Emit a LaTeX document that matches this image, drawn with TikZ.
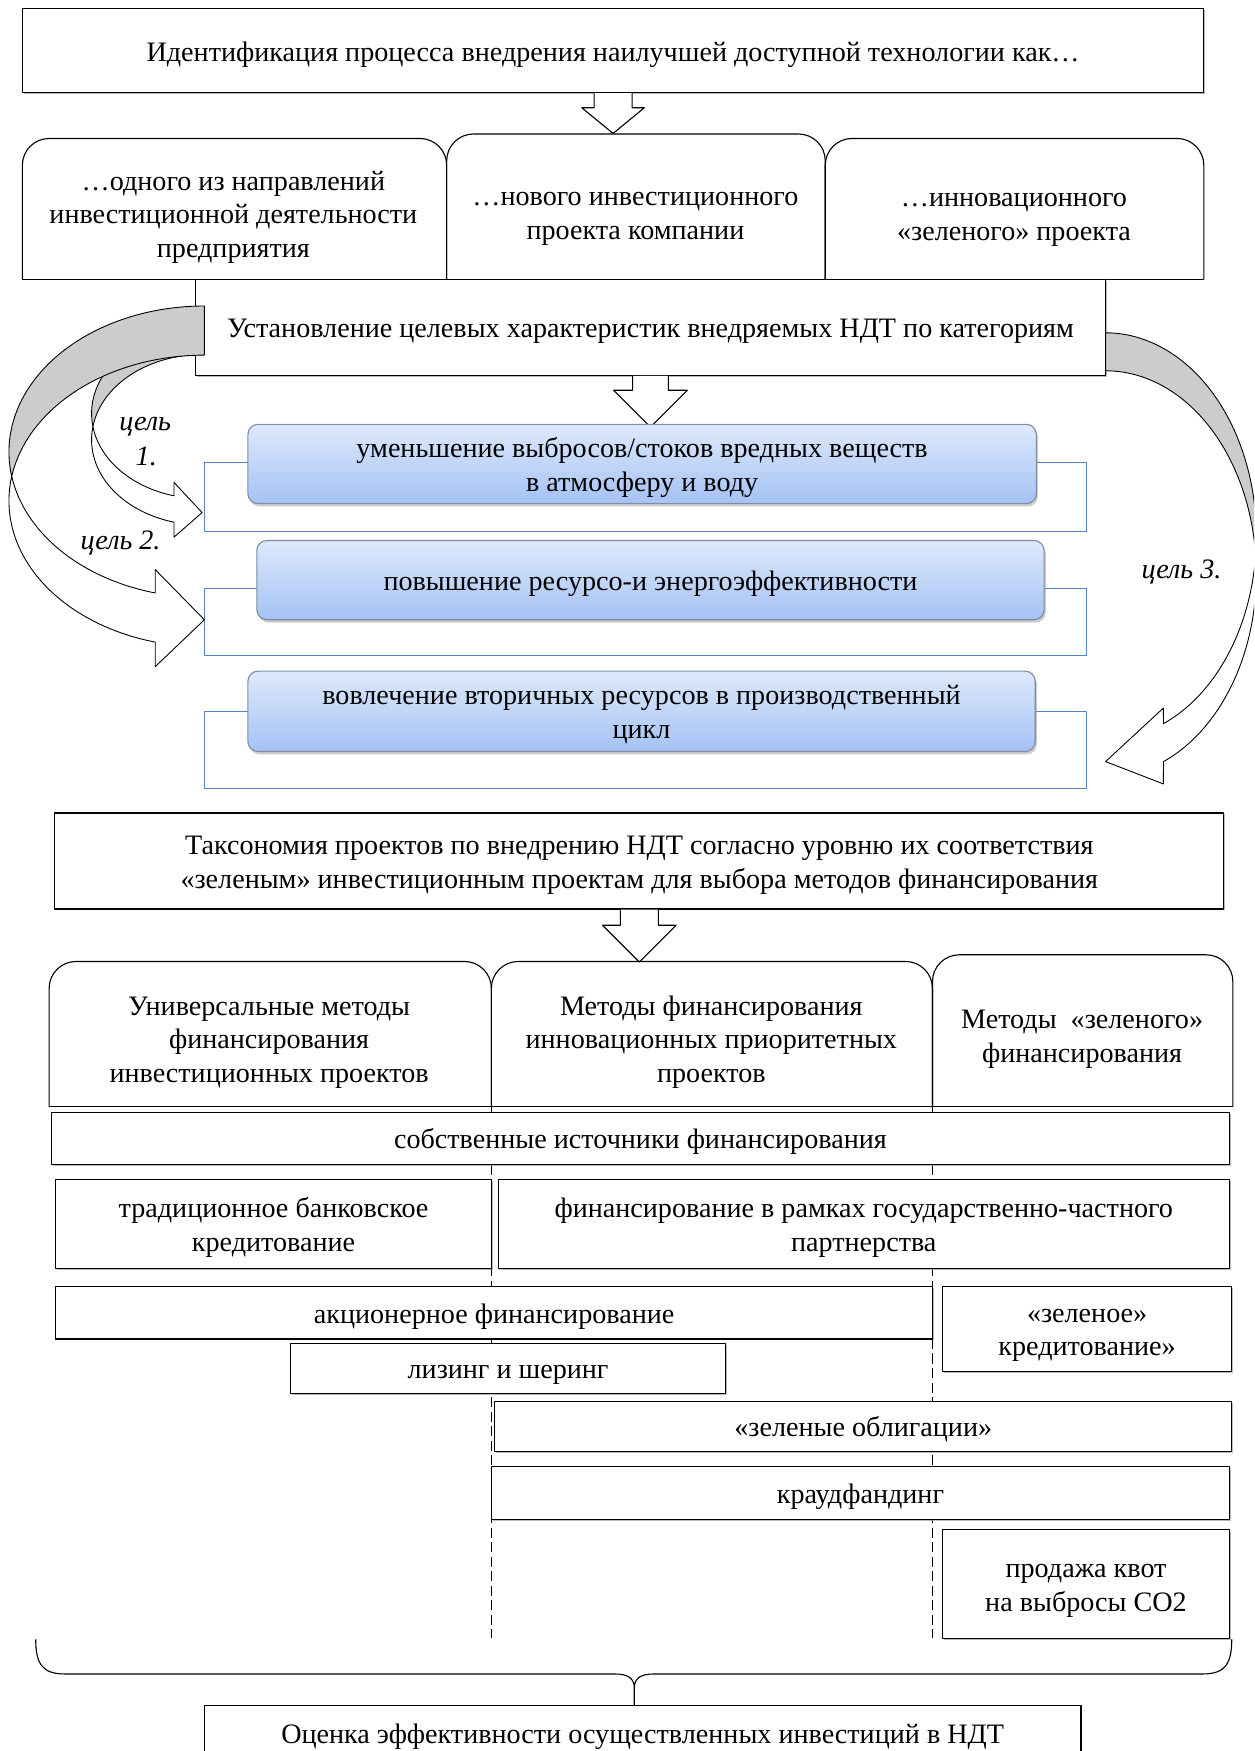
\documentclass[tikz,border=0pt]{standalone}
\usepackage{fontspec}
\setmainfont{Liberation Serif}
\usetikzlibrary{shadows}
\definecolor{goaltop}{RGB}{222,233,252}
\definecolor{goalbot}{RGB}{164,194,244}
\definecolor{goalline}{RGB}{128,140,160}
\definecolor{framecol}{RGB}{84,132,196}
\definecolor{backgray}{RGB}{204,204,204}

\begin{document}
\begin{tikzpicture}[x=1pt, y=-1pt, line join=round,
txt/.style={font=\fontsize{25.2}{30}\selectfont, align=center, inner sep=0pt,
  execute at begin node={\rule{0pt}{24pt}}, execute at end node={\rule[-5.5pt]{0pt}{5.5pt}}},
twoline/.style={execute at begin node={\rule{0pt}{54pt}}},
threeline/.style={execute at begin node={\rule{0pt}{84pt}}},
box/.style={txt, draw, line width=1pt, fill=white,
  drop shadow={shadow xshift=1.2pt, shadow yshift=-1.2pt, fill=black!45, opacity=.6}},
goal/.style={txt, draw=goalline, line width=1pt, rounded corners=9pt,
  top color=goaltop, bottom color=goalbot,
  drop shadow={shadow xshift=1.5pt, shadow yshift=-2.5pt, fill=black!40, opacity=.5}},
frame/.style={draw=framecol, line width=1.4pt, inner sep=0pt},
roundtop/.style={line width=1pt, rounded corners=24pt},
blockarr/.style={draw, line width=1pt, fill=white},
back/.style={draw, line width=.8pt, fill=backgray},
front/.style={draw, line width=.8pt, fill=white},
goallabel/.style={txt, font=\fontsize{25.2}{30}\selectfont\itshape},
divider/.style={line width=1pt, dash pattern=on 9pt off 4pt}]
\useasboundingbox (0,0) rectangle (1123,1568);
\clip (0,0) rectangle (1123,1568);

% identification
\node[box, minimum width=1058pt, minimum height=75pt] (ident) at (549,45.5)
  {Идентификация процесса внедрения наилучшей доступной технологии как…};

\draw[roundtop] (20,250) |- (400,124) -- (400,250);
\draw[roundtop] (400,250) |- (739,120) -- (739,250);
\draw[roundtop] (739,250) |- (1078,124) -- (1078,250);
\draw[line width=1pt] (20,250) -- (1078,250);
\node[txt, threeline] (way1) at (209,191) {…одного из направлений\\инвестиционной деятельности\\предприятия};
\node[txt, twoline] (way2) at (569,190) {…нового инвестиционного\\проекта компании};
\node[txt, twoline] (way3) at (908,191) {…инновационного\\«зеленого» проекта};

\draw[blockarr] ([xshift=-17pt]ident.south) -- ++(0,13) -- ++(-11,0) -- ++(28,23)
  -- ++(28,-23) -- ++(-11,0) -- ++(0,-13);

% goals
\node[box, minimum width=815pt, minimum height=86pt] (target) at (582.5,293)
  {Установление целевых характеристик внедряемых НДТ по категориям};
\draw[blockarr] ([xshift=-16pt]target.south) -- ++(0,13) -- ++(-17,0) -- ++(33,33)
  -- ++(33,-33) -- ++(-17,0) -- ++(0,-13);

\node[frame, minimum width=790pt, minimum height=62pt] (frame1) at (578,445) {};
\node[goal, twoline, minimum width=706pt, minimum height=71pt] (goal1) at (575,415.5)
  {уменьшение выбросов/стоков вредных веществ\\в атмосферу и воду};
\node[frame, minimum width=790pt, minimum height=60pt] (frame2) at (578,557) {};
\node[goal, minimum width=705pt, minimum height=71pt] (goal2) at (582.5,519.5)
  {повышение ресурсо-и энергоэффективности};
\node[frame, minimum width=790pt, minimum height=69pt] (frame3) at (578,671.5) {};
\node[goal, twoline, minimum width=705pt, minimum height=72pt] (goal3) at (574.5,637)
  {вовлечение вторичных ресурсов в производственный\\цикл};

% curved arrows
\draw[back] plot[domain=270:171.1, samples=40] ({181+99*cos(\x)},{370.2+76.3*sin(\x)})
  -- plot[domain=188.9:270, samples=40] ({181+99*cos(\x)},{393.8+76.3*sin(\x)}) -- cycle;
\draw[front] plot[domain=188.9:104.75, samples=40] ({181+99*cos(\x)},{393.8+76.3*sin(\x)})
  -- (155.8,481) -- (181,459) -- (155.8,432)
  -- plot[domain=104.75:171.1, samples=40] ({181+99*cos(\x)},{370.2+76.3*sin(\x)}) -- cycle;

\draw[back] plot[domain=270:170.3, samples=50] ({183+175*cos(\x)},{404.6+130.6*sin(\x)})
  -- plot[domain=189.7:270, samples=50] ({183+175*cos(\x)},{448.6+130.6*sin(\x)}) -- cycle;
\draw[front] plot[domain=189.7:104.56, samples=50] ({183+175*cos(\x)},{448.6+130.6*sin(\x)})
  -- (139,597) -- (183,555) -- (139,510)
  -- plot[domain=104.56:170.3, samples=50] ({183+175*cos(\x)},{404.6+130.6*sin(\x)}) -- cycle;

\draw[back] plot[domain=-90:5.36, samples=50] ({990+135*cos(\x)},{480+182*sin(\x)})
  -- plot[domain=-5.36:-90, samples=50] ({990+135*cos(\x)},{514+182*sin(\x)}) -- cycle;
\draw[front] plot[domain=-5.36:67.4, samples=50] ({990+135*cos(\x)},{514+182*sin(\x)})
  -- (1041.8,702) -- (990,682) -- (1041.8,634)
  -- plot[domain=67.4:5.36, samples=50] ({990+135*cos(\x)},{480+182*sin(\x)}) -- cycle;

\node[goallabel] (lab1a) at (130,376) {цель};
\node[goallabel] (lab1b) at (131,408) {1.};
\node[goallabel] (lab2) at (108,483) {цель 2.};
\node[goallabel] (lab3) at (1058,509) {цель 3.};

% taxonomy
\node[box, twoline, minimum width=1047pt, minimum height=86pt] (taxon) at (572.5,771)
  {Таксономия проектов по внедрению НДТ согласно уровню их соответствия\\«зеленым» инвестиционным проектам для выбора методов финансирования};
\draw[blockarr] ([xshift=-17pt]taxon.south) -- ++(0,14) -- ++(-16,0) -- ++(33,33)
  -- ++(33,-33) -- ++(-16,0) -- ++(0,-14);

% methods
\draw[divider] (440,991) -- (440,1467);
\draw[divider] (835,991) -- (835,1467);
\draw[roundtop] (44,991) |- (440,861) -- (440,991);
\draw[roundtop] (440,991) |- (835,861) -- (835,991);
\draw[roundtop] (835,991) |- (1104,855) -- (1104,991);
\draw[line width=1pt] (44,991) -- (1104,991);
\node[txt, threeline] (univ) at (241,930) {Универсальные методы\\финансирования\\инвестиционных проектов};
\node[txt, threeline] (innov) at (637,930) {Методы финансирования\\инновационных приоритетных\\проектов};
\node[txt, twoline] (green) at (969,927) {Методы\ \ «зеленого»\\финансирования};

\node[box, minimum width=1055pt, minimum height=47pt] (own) at (573.5,1019.5) {собственные источники финансирования};
\node[box, twoline, minimum width=390pt, minimum height=80pt] (bank) at (245,1096) {традиционное банковское\\кредитование};
\node[box, twoline, minimum width=655pt, minimum height=80pt] (ppp) at (773.5,1096) {финансирование в рамках государственно-частного\\партнерства};
\node[box, minimum width=785pt, minimum height=47pt] (equity) at (442.5,1175.5) {акционерное финансирование};
\node[box, twoline, minimum width=259pt, minimum height=76pt] (gcredit) at (973.5,1190) {«зеленое»\\кредитование»};
\node[box, minimum width=390pt, minimum height=45pt] (leasing) at (455,1225.5) {лизинг и шеринг};
\node[box, minimum width=660pt, minimum height=45pt] (bonds) at (773,1277.5) {«зеленые облигации»};
\node[box, minimum width=661pt, minimum height=48pt] (crowd) at (770.5,1337) {краудфандинг};
\node[box, twoline, minimum width=257pt, minimum height=97pt] (quota) at (972.5,1418.5) {продажа квот\\на выбросы CO2};

% assessment
\node[box, minimum width=785pt, minimum height=50pt] (assess) at (575.5,1552)
  {Оценка эффективности осуществленных инвестиций в НДТ};
\draw[line width=1pt] (32,1468) .. controls (32,1490) and (38,1499) .. (58,1499)
  -- (550,1499) .. controls (563,1499) and (568,1503) .. (568,1512) -- (assess.north -| 568,0)
  -- (568,1512) .. controls (568,1503) and (573,1499) .. (586,1499)
  -- (1077,1499) .. controls (1097,1499) and (1103,1490) .. (1103,1468);
\end{tikzpicture}
\end{document}
